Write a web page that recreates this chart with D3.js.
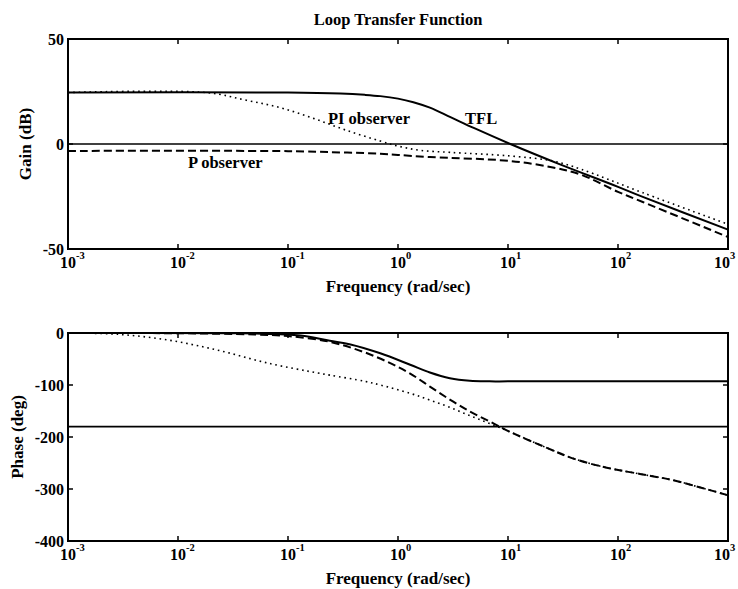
<!DOCTYPE html>
<html>
<head>
<meta charset="utf-8">
<script src="https://cdn.jsdelivr.net/npm/d3@7"></script>
<style>
  body { margin: 0; background: #fff; }
  text { font-family: "Liberation Serif", "Times New Roman", serif; font-weight: bold; fill: #000; }
</style>
</head>
<body>
<div id="chart"></div>
<script>
// Bode plot of the loop transfer function, P and PI observers

// Gain curves [freq rad/s, dB]
const gainTFL = [[0.001, 24.5], [0.1, 24.5], [0.3, 24.0], [0.5, 23.4], [0.69, 22.8], [1.0, 21.6],
  [1.38, 19.9], [1.95, 17.3], [3, 12.8], [5, 7.4], [10.5, 0], [29.7, -9.7], [100, -20.4],
  [168, -25.2], [1000, -40.8]];
const gainPI = [[0.001, 24.5], [0.018, 24.5], [0.042, 20.8], [0.085, 17.3], [0.17, 12.2], [0.34, 6.5],
  [0.69, 1.4], [1.0, -1.0], [1.58, -3.0], [3, -4.0], [10.5, -5.7], [25.6, -8.1], [46, -12.0],
  [168, -23.2], [1000, -38.2]];
const gainP = [[0.001, -3.3], [0.1, -3.4], [0.3, -4.0], [0.69, -4.6], [1.0, -5.2], [1.95, -6.2],
  [10.5, -8.1], [25.6, -11.2], [46, -14.6], [100, -22.8], [168, -27.6], [1000, -44.3]];

// Phase curves [freq rad/s, deg]
const phaseTFL = [[0.001, 0], [0.03, -0.5], [0.05, -1], [0.13, -5], [0.24, -15], [0.37, -22],
  [0.69, -39], [1.29, -61], [1.95, -76], [2.96, -87], [4.5, -92], [6.8, -93], [10, -93], [1000, -93]];
const phasePI = [[0.001, 0], [0.00285, -2.5], [0.0081, -13.5], [0.023, -33], [0.066, -58],
  [0.187, -77], [0.24, -81], [0.5, -93], [0.69, -100], [1.29, -116], [1.95, -129], [2.96, -143],
  [4.5, -159], [6.8, -174], [10.4, -190], [22.6, -221], [40, -242], [79, -259], [158, -271],
  [316, -283], [560, -297], [1000, -312]];
const phaseP = [[0.001, 0], [0.01, -0.5], [0.05, -3], [0.1, -6], [0.24, -17], [0.48, -36],
  [0.85, -58], [1.29, -78], [1.95, -103], [2.96, -128], [4.5, -151], [6.8, -170], [10.4, -190],
  [22.6, -221], [40, -242], [79, -259], [158, -271], [316, -283], [560, -297], [1000, -312]];

const gainRef = 0;
const phaseRef = -180;

const xTicks = [1e-3, 1e-2, 1e-1, 1e0, 1e1, 1e2, 1e3];
const gainTicks = [50, 0, -50];
const phaseTicks = [0, -100, -200, -300, -400];

// curve labels: text, frequency and gain (dB) of the baseline start
const labels = [
  { text: "PI observer", f: 0.231, v: 9.5 },
  { text: "TFL", f: 4.07, v: 9.5 },
  { text: "P observer", f: 0.0123, v: -11.4 }
];

const W = 738, H = 589;
const svg = d3.select("#chart").append("svg").attr("width", W).attr("height", H);

const pL = 68, pR = 728;
const x = d3.scaleLog().domain([1e-3, 1e3]).range([pL, pR]);
const yGain = d3.scaleLinear().domain([-50, 50]).range([249, 39]);
const yPhase = d3.scaleLinear().domain([-400, 0]).range([541, 333]);

svg.append("text")
  .attr("x", (pL + pR) / 2).attr("y", 25)
  .attr("text-anchor", "middle").attr("font-size", 16.5)
  .text("Loop Transfer Function");

function panel(y, yTicks, ylabel, labelX, series, ref) {
  const [yb, yt] = y.range();
  const g = svg.append("g");

  const line = d3.line().x(d => x(d[0])).y(d => y(d[1])).curve(d3.curveCatmullRom.alpha(0.5));

  g.append("line")
    .attr("x1", pL).attr("x2", pR)
    .attr("y1", y(ref)).attr("y2", y(ref))
    .attr("stroke", "#000").attr("stroke-width", 1.6);

  series.forEach(s => {
    g.append("path")
      .datum(s.data)
      .attr("d", line)
      .attr("fill", "none")
      .attr("stroke", "#000")
      .attr("stroke-width", s.w)
      .attr("stroke-dasharray", s.dash);
  });

  // frame
  g.append("rect")
    .attr("x", pL).attr("y", yt)
    .attr("width", pR - pL).attr("height", yb - yt)
    .attr("fill", "none").attr("stroke", "#000").attr("stroke-width", 2);

  // inward ticks
  const tl = 5;
  yTicks.forEach(t => {
    g.append("line").attr("x1", pL).attr("x2", pL + tl).attr("y1", y(t)).attr("y2", y(t))
      .attr("stroke", "#000").attr("stroke-width", 1.5);
    g.append("line").attr("x1", pR).attr("x2", pR - tl).attr("y1", y(t)).attr("y2", y(t))
      .attr("stroke", "#000").attr("stroke-width", 1.5);
    g.append("text")
      .attr("x", pL - 4).attr("y", y(t)).attr("dy", "0.35em")
      .attr("text-anchor", "end").attr("font-size", 16)
      .text(t);
  });

  xTicks.forEach((t, i) => {
    g.append("line").attr("x1", x(t)).attr("x2", x(t)).attr("y1", yb).attr("y2", yb - tl)
      .attr("stroke", "#000").attr("stroke-width", 1.5);
    g.append("line").attr("x1", x(t)).attr("x2", x(t)).attr("y1", yt).attr("y2", yt + tl)
      .attr("stroke", "#000").attr("stroke-width", 1.5);
    const e = Math.round(Math.log10(t));
    const shift = i === xTicks.length - 1 ? -6 : 0; // keep the last label inside the page
    g.append("text")
      .attr("x", x(t) + shift).attr("y", yb + 19)
      .attr("text-anchor", "middle").attr("font-size", 16)
      .text("10");
    g.append("text")
      .attr("x", x(t) + shift + 8).attr("y", yb + 10)
      .attr("font-size", 10.5)
      .text(e);
  });

  g.append("text")
    .attr("x", (pL + pR) / 2).attr("y", yb + 43)
    .attr("text-anchor", "middle").attr("font-size", 17)
    .text("Frequency (rad/sec)");

  g.append("text")
    .attr("transform", `translate(${labelX} ${(yt + yb) / 2}) rotate(-90)`)
    .attr("text-anchor", "middle").attr("font-size", 17)
    .text(ylabel);

  return g;
}

const solid = { w: 2, dash: null };
const dashed = { w: 2, dash: "8,4" };
const dotted = { w: 1.6, dash: "1.6,3.8" };

const gGain = panel(yGain, gainTicks, "Gain (dB)", 31, [
  { data: gainTFL, ...solid },
  { data: gainPI, ...dotted },
  { data: gainP, ...dashed }
], gainRef);

panel(yPhase, phaseTicks, "Phase (deg)", 23, [
  { data: phaseTFL, ...solid },
  { data: phasePI, ...dotted },
  { data: phaseP, ...dashed }
], phaseRef);

// curve labels in the gain panel
gGain.selectAll(".curve-label")
  .data(labels)
  .enter()
  .append("text")
  .attr("class", "curve-label")
  .attr("x", d => x(d.f))
  .attr("y", d => yGain(d.v))
  .attr("font-size", 16.5)
  .text(d => d.text);
</script>
</body>
</html>
